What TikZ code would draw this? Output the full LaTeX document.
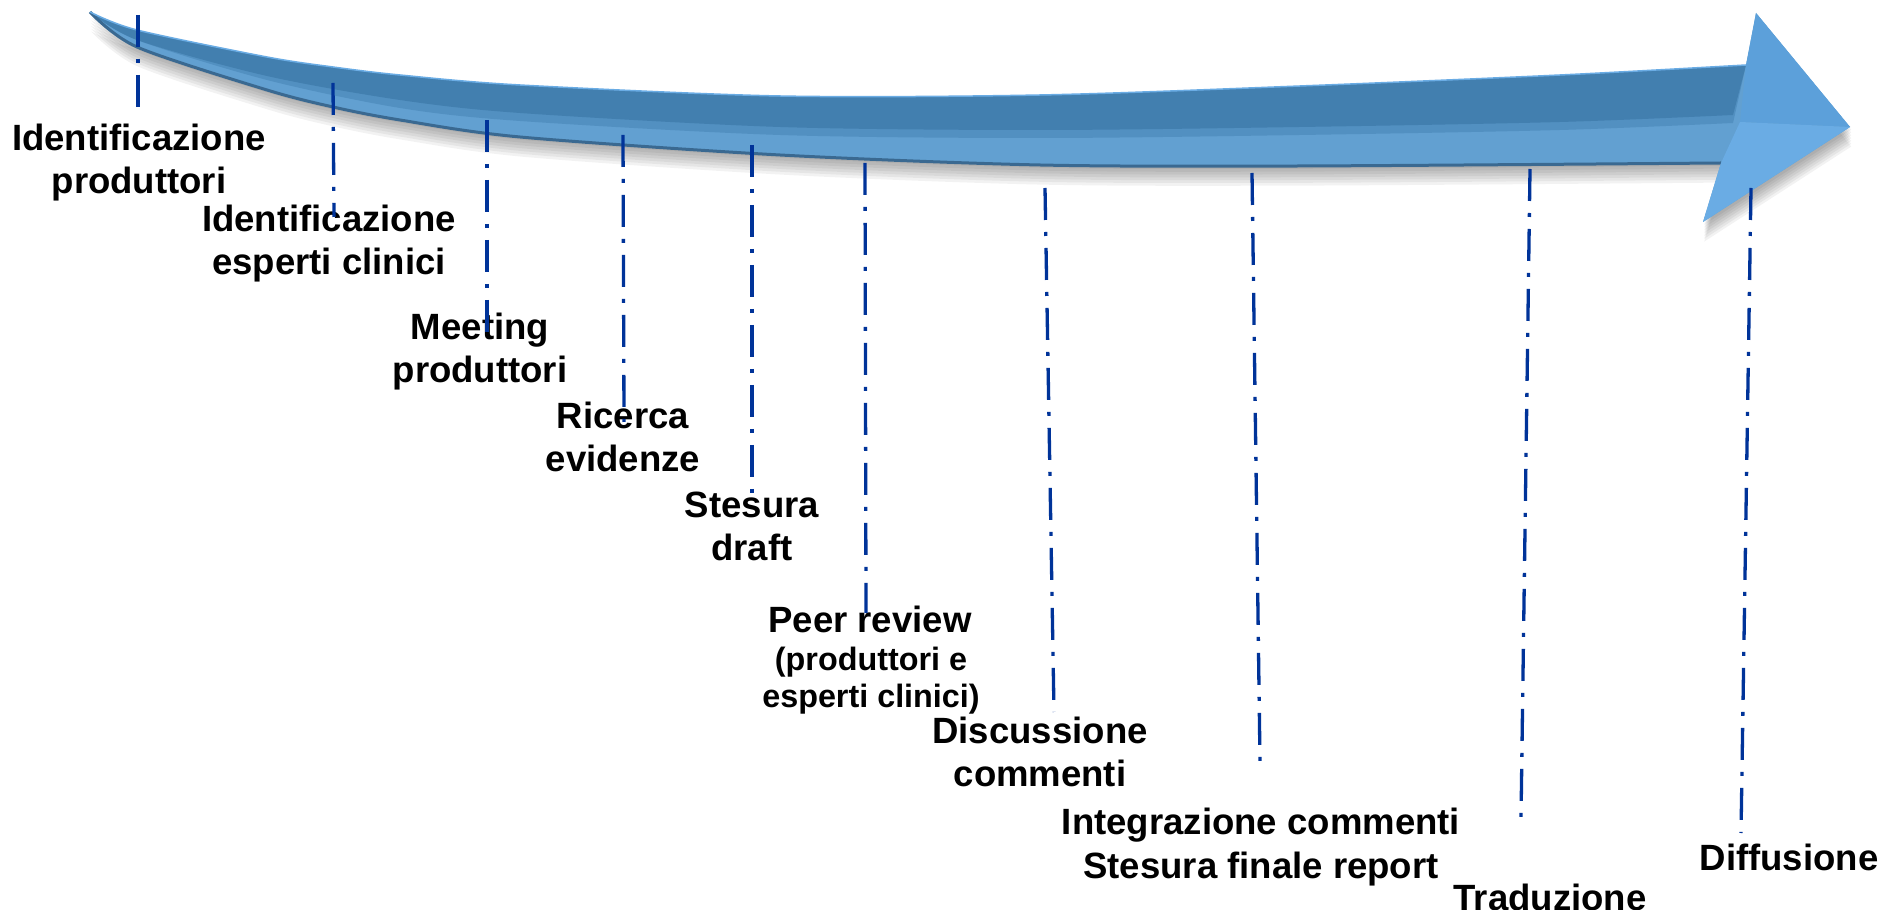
\documentclass[tikz,border=0pt]{standalone}
\usepackage{fontspec}
\setmainfont{Liberation Sans}
\definecolor{shaftdark}{RGB}{66,127,175}
\definecolor{shaftmid}{RGB}{82,144,193}
\definecolor{shaftlight}{RGB}{98,160,209}
\definecolor{shaftedge}{RGB}{58,105,145}
\definecolor{headupper}{RGB}{92,160,218}
\definecolor{headlower}{RGB}{106,172,228}
\definecolor{milestoneblue}{RGB}{0,51,153}
\tikzset{
  phase/.style={font=\fontsize{10.4}{12.4}\selectfont\bfseries, align=center, anchor=base, inner sep=0pt},
  phasenote/.style={font=\fontsize{9.2}{10.6}\selectfont\bfseries, align=center, anchor=base, inner sep=0pt},
  milestone/.style={milestoneblue, line width=0.033cm, dash pattern=on 0.32cm off 0.12cm on 0.04cm off 0.12cm},
}
% outline of the whole arrow (shaft + head)
\def\arrowpath{plot[smooth] coordinates {(0.90,-0.12) (1.37,-0.30) (2.67,-0.57) (3.33,-0.67) (4.00,-0.75) (5.20,-0.85) (7.80,-0.96) (10.40,-0.95) (13.00,-0.86) (15.60,-0.75) (17.46,-0.65)}
  -- (17.56,-0.13) -- (18.50,-1.27) -- (17.03,-2.22) -- (17.21,-1.63)
  -- plot[smooth] coordinates {(17.21,-1.63) (13.00,-1.66) (10.40,-1.65) (7.80,-1.55) (5.20,-1.37) (4.00,-1.20) (3.33,-1.07) (2.67,-0.90) (1.37,-0.47) (0.90,-0.12)} -- cycle}
% upper half of the shaft, down to a given depth
\def\upperband#1{plot[smooth] coordinates {(0.90,-0.12) (1.37,-0.30) (2.67,-0.57) (3.33,-0.67) (4.00,-0.75) (5.20,-0.85) (7.80,-0.96) (10.40,-0.95) (13.00,-0.86) (15.60,-0.75) (17.46,-0.65)}
  -- (17.33,-1.15-#1)
  -- plot[smooth] coordinates {(17.33,-1.15-#1) (15.60,-1.22-#1) (13.00,-1.27-#1) (10.40,-1.30-#1) (7.80,-1.27-#1) (5.20,-1.13-#1) (4.00,-1.00-#1) (2.67,-0.76-#1/2) (1.37,-0.40) (0.90,-0.12)} -- cycle}
\begin{document}
\begin{tikzpicture}
  \useasboundingbox[fill=white] (0,0) rectangle (18.88,-9.10);
  % soft shadow
  \foreach \s in {1,...,7}
    \fill[black, opacity=0.05, yshift=-\s*0.028cm, xshift=0.012cm] \arrowpath;
  % shaft
  \fill[shaftlight] \arrowpath;
  \fill[shaftmid] \upperband{0.08};
  \fill[shaftdark] \upperband{0};
  \draw[shaftedge, line width=0.03cm] plot[smooth] coordinates {(17.21,-1.63) (13.00,-1.66) (10.40,-1.65) (7.80,-1.55) (5.20,-1.37) (4.00,-1.20) (3.33,-1.07) (2.67,-0.90) (1.37,-0.47) (0.90,-0.12)};
  \draw[headlower, line width=0.015cm] plot[smooth] coordinates {(0.90,-0.12) (1.37,-0.30) (2.67,-0.57) (3.33,-0.67) (4.00,-0.75) (5.20,-0.85) (7.80,-0.96) (10.40,-0.95) (13.00,-0.86) (15.60,-0.75) (17.46,-0.65)};
  % head
  \fill[headupper] (17.46,-0.65) -- (17.56,-0.13) -- (18.50,-1.27) -- (17.40,-1.22) -- cycle;
  \fill[headlower] (17.40,-1.22) -- (18.50,-1.27) -- (17.03,-2.22) -- (17.21,-1.63) -- cycle;

  % phases
  \node[phase] (idprod) at (1.39,-1.94) {Identificazione\\produttori};
  \node[phase] (idexp) at (3.29,-2.75) {Identificazione\\esperti clinici};
  \node[phase] (meeting) at (4.80,-3.83) {Meeting\\produttori};
  \node[phase] (ricerca) at (6.23,-4.72) {Ricerca\\evidenze};
  \node[phase] (stesura) at (7.52,-5.61) {Stesura\\draft};
  \node[phase] (peer) at (8.70,-6.33) {Peer review};
  \node[phasenote] (peernote) at (8.71,-7.08) {(produttori e\\esperti clinici)};
  \node[phase] (discuss) at (10.40,-7.87) {Discussione\\commenti};
  \node[phase] (integr) at (12.61,-8.78) {Integrazione commenti\\Stesura finale report};
  \node[phase] (trad) at (15.50,-9.10) {Traduzione};
  \node[phase] (diffus) at (17.89,-8.70) {Diffusione};

  % milestone lines
  \foreach \xa/\ya/\xb/\yb [count=\i] in {1.38/-0.15/1.38/-1.18, 3.33/-0.83/3.34/-2.17, 4.87/-1.20/4.87/-3.32,
      6.23/-1.35/6.24/-4.22, 7.52/-1.45/7.52/-4.93, 8.65/-1.63/8.66/-6.13, 10.45/-1.88/10.54/-7.12,
      12.52/-1.73/12.60/-7.62, 15.30/-1.69/15.21/-8.18, 17.51/-1.88/17.41/-8.33} {
    \coordinate (top\i) at (\xa,\ya);
    \coordinate (bot\i) at (\xb,\yb);
    \draw[milestone] (top\i) -- (bot\i);
  }
\end{tikzpicture}
\end{document}
